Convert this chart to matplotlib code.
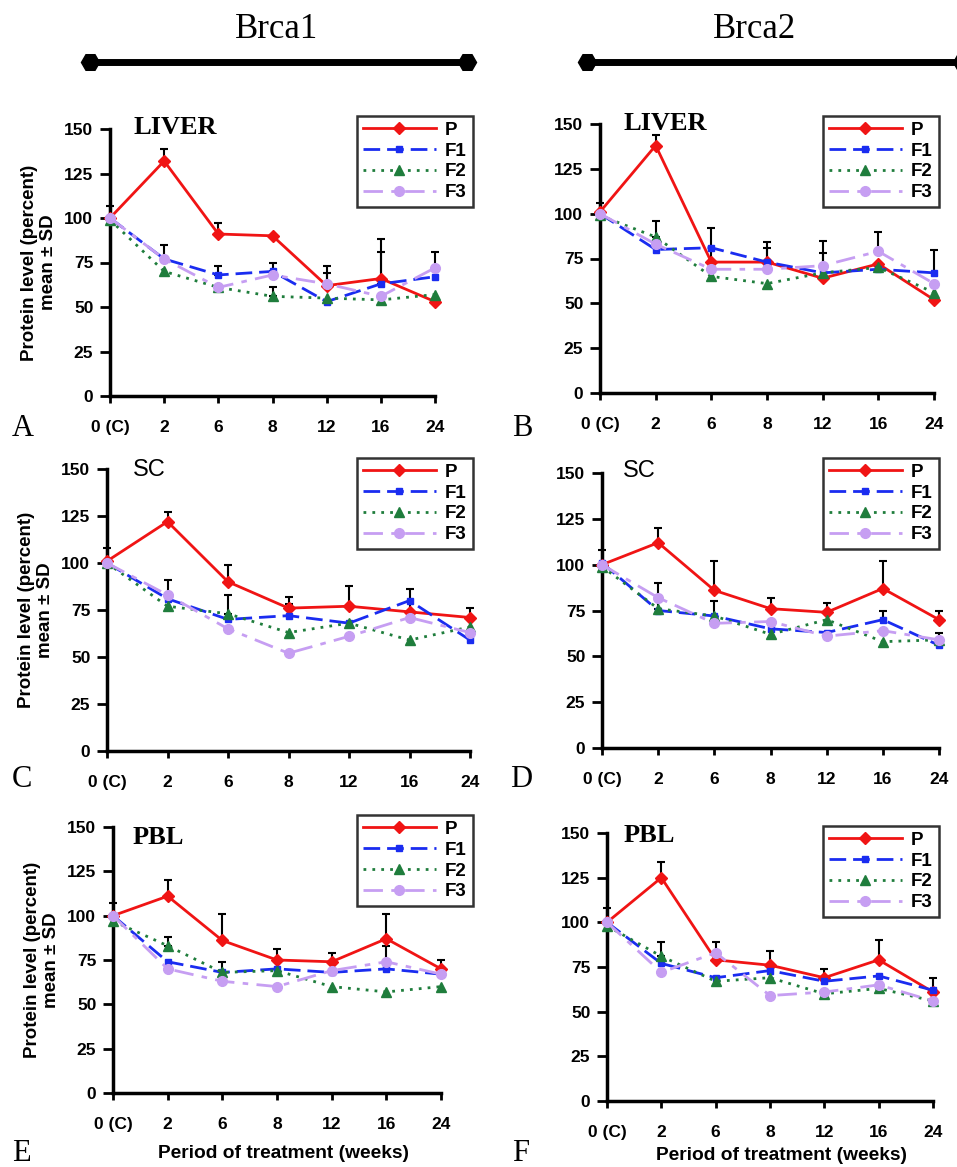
import matplotlib
matplotlib.use('Agg')
import matplotlib.pyplot as plt
from matplotlib.lines import Line2D

plt.rcParams['font.family'] = ['Liberation Sans', 'DejaVu Sans']

weeks = ['0 (C)', '2', '6', '8', '12', '16', '24']
series = ['P', 'F1', 'F2', 'F3']

# A - LIVER, Brca1
A_P = [100, 132, 91, 90, 62, 66, 53]
A_F1 = [100, 77, 68, 70, 53, 63, 67]
A_F2 = [99, 70, 61, 56, 55, 54, 57]
A_F3 = [100, 77, 61, 68, 63, 56, 72]
A_P_err = [7, 7, 6, 0, 11, 22, 0]
A_F1_err = [0, 0, 5, 5, 0, 18, 0]
A_F2_err = [0, 0, 0, 5, 0, 0, 0]
A_F3_err = [0, 8, 0, 0, 6, 0, 9]

# B - LIVER, Brca2
B_P = [101, 138, 73, 73, 64, 72, 52]
B_F1 = [100, 80, 81, 73, 67, 69, 67]
B_F2 = [99, 87, 65, 61, 67, 70, 56]
B_F3 = [100, 83, 69, 69, 71, 79, 61]
B_P_err = [5, 6, 19, 8, 14, 0, 0]
B_F1_err = [0, 0, 0, 11, 0, 0, 13]
B_F2_err = [0, 9, 0, 0, 0, 0, 0]
B_F3_err = [0, 0, 0, 0, 14, 11, 0]

# C - SC, Brca1
C_P = [101, 122, 90, 76, 77, 74, 71]
C_F1 = [100, 81, 70, 72, 68, 80, 59]
C_F2 = [100, 77, 73, 63, 68, 59, 66]
C_F3 = [100, 83, 65, 52, 61, 71, 63]
C_P_err = [7, 5, 9, 6, 11, 12, 5]
C_F1_err = [0, 0, 0, 6, 0, 0, 0]
C_F2_err = [0, 0, 10, 0, 0, 0, 0]
C_F3_err = [0, 8, 0, 0, 0, 0, 0]

# D - SC, Brca2
D_P = [100, 112, 86, 76, 74, 87, 70]
D_F1 = [101, 75, 72, 65, 63, 70, 56]
D_F2 = [99, 76, 72, 62, 70, 58, 59]
D_F3 = [100, 82, 68, 69, 61, 64, 59]
D_P_err = [8, 8, 16, 6, 5, 15, 5]
D_F1_err = [0, 0, 8, 0, 0, 5, 0]
D_F2_err = [0, 14, 0, 0, 0, 0, 0]
D_F3_err = [0, 0, 0, 0, 0, 0, 4]

# E - PBL, Brca1
E_P = [100, 111, 86, 75, 74, 87, 70]
E_F1 = [100, 74, 68, 70, 68, 70, 67]
E_F2 = [97, 83, 68, 69, 60, 57, 60]
E_F3 = [100, 70, 63, 60, 69, 74, 67]
E_P_err = [7, 9, 15, 6, 5, 14, 5]
E_F1_err = [0, 0, 0, 0, 0, 13, 0]
E_F2_err = [0, 5, 6, 0, 0, 0, 0]
E_F3_err = [0, 0, 0, 0, 0, 0, 0]

# F - PBL, Brca2
F_P = [100, 125, 79, 76, 69, 79, 61]
F_F1 = [100, 77, 69, 73, 67, 70, 62]
F_F2 = [98, 81, 67, 69, 60, 63, 56]
F_F3 = [100, 72, 83, 59, 61, 65, 56]
F_P_err = [8, 9, 10, 8, 5, 11, 8]
F_F1_err = [0, 0, 0, 0, 0, 0, 0]
F_F2_err = [0, 8, 0, 0, 0, 0, 0]
F_F3_err = [0, 0, 0, 0, 0, 0, 0]

panels = [
    ('A', 'LIVER', [A_P, A_F1, A_F2, A_F3], [A_P_err, A_F1_err, A_F2_err, A_F3_err]),
    ('B', 'LIVER', [B_P, B_F1, B_F2, B_F3], [B_P_err, B_F1_err, B_F2_err, B_F3_err]),
    ('C', 'SC', [C_P, C_F1, C_F2, C_F3], [C_P_err, C_F1_err, C_F2_err, C_F3_err]),
    ('D', 'SC', [D_P, D_F1, D_F2, D_F3], [D_P_err, D_F1_err, D_F2_err, D_F3_err]),
    ('E', 'PBL', [E_P, E_F1, E_F2, E_F3], [E_P_err, E_F1_err, E_F2_err, E_F3_err]),
    ('F', 'PBL', [F_P, F_F1, F_F2, F_F3], [F_P_err, F_F1_err, F_F2_err, F_F3_err]),
]

W, H = 957, 1167
# axes boxes in pixels: left, top, right, bottom
boxes = [(110, 129, 435, 396), (600, 124, 934, 393),
         (107, 469, 470, 751), (602, 473, 939, 748),
         (113, 827, 441, 1093), (607, 833, 933, 1101)]
legend_pos = [(357, 116), (823, 116), (357, 458), (823, 458), (357, 815), (823, 826)]
letter_pos = [(12, 436), (512, 436), (12, 787), (510, 787), (12, 1161), (512, 1161)]
title_pos = [(133, 127), (623, 123), (133, 470), (623, 471), (133, 838), (624, 836)]

styles = [
    dict(color='#f01414', ls='-', marker='D', ms=6),
    dict(color='#1a2cf0', ls=(0, (6, 2.5)), marker='s', ms=5),
    dict(color='#1f7d3c', ls=(0, (1, 2.2)), marker='^', ms=7),
    dict(color='#c69ef2', ls=(0, (7, 3, 2, 3)), marker='o', ms=7),
]

fig = plt.figure(figsize=(W / 100, H / 100), dpi=100)

for i, (letter, tissue, vals, errs) in enumerate(panels):
    l, t, r, b = boxes[i]
    ax = fig.add_axes([l / W, 1 - b / H, (r - l) / W, (b - t) / H])
    x = list(range(len(weeks)))
    for v, e in zip(vals, errs):
        xs = [x[k] for k in range(len(v)) if e[k] > 0]
        base = [v[k] for k in range(len(v)) if e[k] > 0]
        up = [e[k] for k in range(len(v)) if e[k] > 0]
        if xs:
            ax.errorbar(xs, base, yerr=[[0] * len(xs), up],
                        fmt='none', ecolor='black', elinewidth=1.5, capsize=3,
                        capthick=1.5, zorder=2, clip_on=False)
    handles = []
    for name, v, st in zip(series, vals, styles):
        h, = ax.plot(x, v, color=st['color'], ls=st['ls'], lw=2, marker=st['marker'],
                     ms=st['ms'], mec=st['color'], label=name, zorder=3, clip_on=False)
        handles.append(h)
    ax.set_xlim(0, 6)
    ax.set_ylim(0, 150)
    ax.set_yticks(range(0, 151, 25))
    ax.set_xticks(x)
    ax.set_xticklabels(weeks)
    for s in ['top', 'right']:
        ax.spines[s].set_visible(False)
    for s in ['left', 'bottom']:
        ax.spines[s].set_linewidth(2.5)
    ax.tick_params(axis='both', direction='out', width=2, labelsize=12.5)
    ax.tick_params(axis='x', length=5, pad=12)
    ax.tick_params(axis='y', length=7, pad=5)
    for lab in ax.get_xticklabels() + ax.get_yticklabels():
        lab.set_fontweight('bold')
    if i % 2 == 0:
        ax.set_ylabel('Protein level (percent)\nmean ± SD', fontsize=13.5, fontweight='bold',
                      linespacing=1.15, labelpad=5)

    lx, ly = legend_pos[i]
    leg = ax.legend(handles=handles, loc='upper left', bbox_to_anchor=(lx / W, 1 - ly / H),
                    bbox_transform=fig.transFigure, frameon=True, fancybox=False,
                    prop={'weight': 'bold', 'size': 13.5}, handlelength=3.9,
                    labelspacing=0.2, borderpad=0.3, borderaxespad=0, handletextpad=0.5)
    leg.get_frame().set_edgecolor('black')
    leg.get_frame().set_linewidth(1.8)

    tx, ty = title_pos[i]
    if tissue == 'SC':
        fig.text(tx / W, 1 - ty / H, tissue, ha='left', va='center', fontsize=17)
    else:
        fig.text(tx / W, 1 - ty / H, tissue, ha='left', va='center', fontsize=19,
                 fontweight='bold', family=['Liberation Serif', 'DejaVu Serif'])

    px, py = letter_pos[i]
    fig.text(px / W, 1 - py / H, letter, ha='left', va='baseline', fontsize=22,
             family=['Liberation Serif', 'DejaVu Serif'])

fig.text(284 / W, 1 - 1153 / H, 'Period of treatment (weeks)', ha='center', va='center',
         fontsize=13.8, fontweight='bold')
fig.text(782 / W, 1 - 1155 / H, 'Period of treatment (weeks)', ha='center', va='center',
         fontsize=13.8, fontweight='bold')

# gene headers with bars
for label, cx, x0, x1 in [('Brca1', 277, 90, 467), ('Brca2', 755, 587, 962)]:
    fig.text(cx / W, 1 - 30 / H, label, ha='center', va='center', fontsize=25,
             family=['Liberation Serif', 'DejaVu Serif'])
    fig.add_artist(Line2D([x0 / W, x1 / W], [1 - 62 / H, 1 - 62 / H], transform=fig.transFigure,
                          color='black', lw=5, marker='H', ms=13, solid_capstyle='butt'))

fig.savefig('out.png', dpi=100)
